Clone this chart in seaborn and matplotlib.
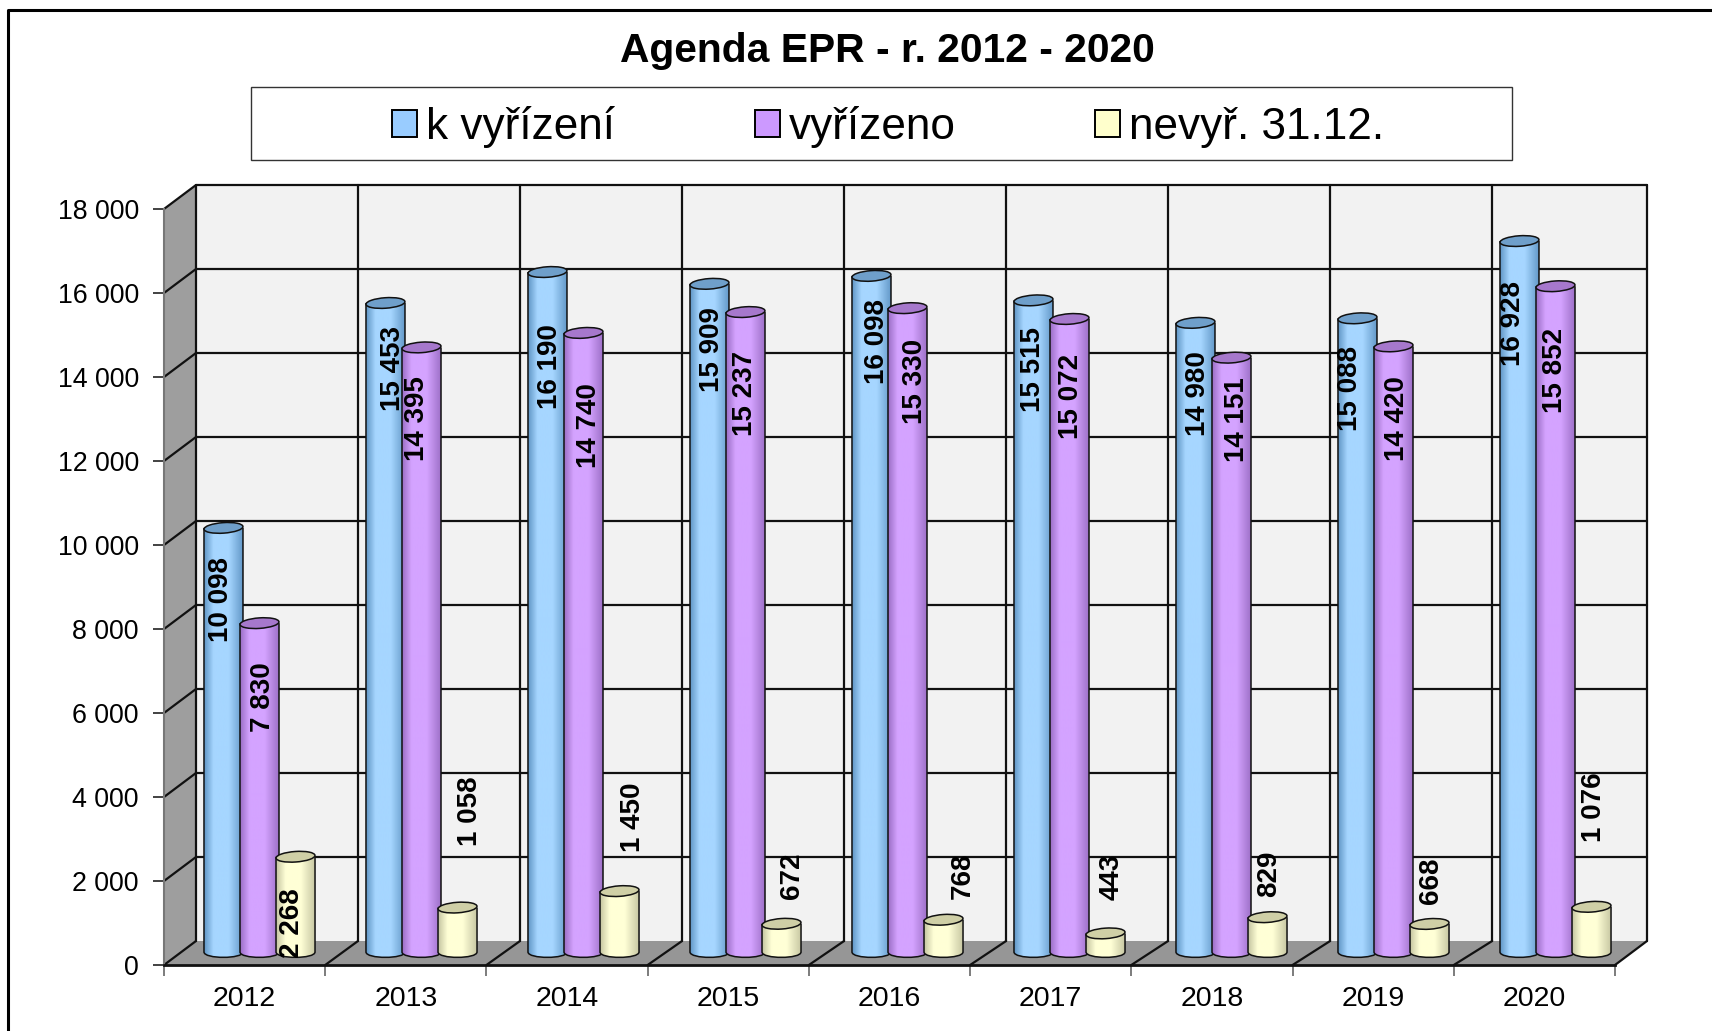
import numpy as np
import pandas as pd
import matplotlib
matplotlib.use('Agg')
import matplotlib.pyplot as plt
import seaborn as sns
from matplotlib.colors import LinearSegmentedColormap
from matplotlib.patches import Ellipse, Patch, PathPatch, Polygon, Rectangle
from matplotlib.path import Path
from matplotlib.transforms import IdentityTransform

# --- data ---
years = ['2012', '2013', '2014', '2015', '2016', '2017', '2018', '2019', '2020']
k_vyrizeni = [10098, 15453, 16190, 15909, 16098, 15515, 14980, 15088, 16928]
vyrizeno = [7830, 14395, 14740, 15237, 15330, 15072, 14151, 14420, 15852]
nevyrizeno = [2268, 1058, 1450, 672, 768, 443, 829, 668, 1076]
series_names = ['k vyřízení', 'vyřízeno', 'nevyř. 31.12.']
y_ticks = [0, 2000, 4000, 6000, 8000, 10000, 12000, 14000, 16000, 18000]

# hand placed labels in the original, px from the top of each cylinder
label_dx = [[-2, 8, 3, 3, 6, 0, 3, -7, -6],
            [3, -4, 5, -1, 7, 2, 5, 3, 0],
            [-4, 12, 13, 10, 19, 6, 2, 1, 2]]
label_dy = [[-72, -66, -95, -66, -66, -69, -71, -70, -82],
            [-74, -71, -93, -81, -73, -77, -62, -72, -84],
            [-66, 96, 74, 48, 44, 57, 43, 43, 100]]

# colours: face, shaded edge, top of the cylinder
face_colors = ['#a6d6ff', '#d4a3ff', '#ffffd6']
edge_colors = ['#5f95c5', '#9a6dc4', '#c4c4a0']
top_colors = ['#6f9fca', '#a678cc', '#cfcfa6']

W, H = 1712, 1031
sns.set_theme(style='white')
plt.rcParams['font.family'] = ['Liberation Sans', 'DejaVu Sans']

df = pd.DataFrame({'rok': years * 3,
                   'serie': np.repeat(series_names, len(years)),
                   'pocet': k_vyrizeni + vyrizeno + nevyrizeno})

fig = plt.figure(figsize=(W / 100, H / 100), dpi=100, facecolor='white')


def axes_at(left, top, right, bottom):
    return fig.add_axes([left / W, 1 - bottom / H, (right - left) / W, (bottom - top) / H])


# --- front plane: axis, ticks, walls, floor ---
ax = axes_at(164, 209, 1615, 965)
ax.set_facecolor('none')
ax.set_xlim(-0.5, 8.5)
ax.set_ylim(0, 18000)
depth_x = 32 / 161.2
depth_y = 24 / 0.042
back_step = 162 / 161.2  # back wall grid runs a bit wider than the front ticks

ax.add_patch(Polygon([(-0.5, 0), (-0.5 + depth_x, depth_y), (-0.5 + depth_x, 18000 + depth_y), (-0.5, 18000)],
                     fc='#9e9e9e', ec='none', clip_on=False, zorder=1))
ax.add_patch(Rectangle((-0.5 + depth_x, depth_y), 9, 18000, fc='#f2f2f2', ec='none', clip_on=False, zorder=1))
ax.add_patch(Polygon([(-0.5, 0), (8.5, 0), (8.5 + depth_x, depth_y), (-0.5 + depth_x, depth_y)],
                     fc='#969696', ec='none', clip_on=False, zorder=1.5))

line_kw = dict(color='#111111', lw=1.6, clip_on=False, zorder=2, solid_capstyle='round')
for t in y_ticks[1:]:
    ax.plot([-0.5, -0.5 + depth_x, 8.5 + depth_x], [t, t + depth_y, t + depth_y], **line_kw)
for i in range(10):
    back_x = -0.5 + depth_x + (i * back_step if i < 9 else 9)
    ax.plot([back_x] * 2, [depth_y, 18000 + depth_y], **line_kw)
    ax.plot([i - 0.5, back_x], [0, depth_y], **line_kw)

ax.set_yticks(y_ticks)
ax.set_yticklabels([f'{t:,}'.replace(',', ' ') for t in y_ticks], fontsize=19.3, color='black')
ax.set_xticks(range(9))
ax.set_xticklabels(years, fontsize=20.5, color='black')
ax.set_xticks(np.arange(-0.5, 9), minor=True)
ax.tick_params(axis='y', left=True, length=8, width=1.2, color='#222222', pad=10)
ax.tick_params(axis='x', which='major', bottom=False, length=0, pad=15)
ax.tick_params(axis='x', which='minor', bottom=True, length=8, width=1.2, color='#666666')
for side in ['top', 'right']:
    ax.spines[side].set_visible(False)
ax.spines['left'].set_color('#777777')
ax.spines['left'].set_linewidth(1.5)
ax.spines['bottom'].set_color('#111111')
ax.spines['bottom'].set_linewidth(2)
ax.spines['left'].set_zorder(3)
ax.spines['bottom'].set_zorder(3)

# --- cylinders: seaborn bars, shaded and capped afterwards ---
ax_bars = axes_at(178.5, 209 - 13, 178.5 + 9 * 162, 965 - 13)
ax_bars.set_facecolor('none')
sns.barplot(data=df, x='rok', y='pocet', hue='serie', hue_order=series_names, palette=face_colors,
            width=0.667, gap=-0.083, linewidth=0, legend=False, ax=ax_bars)
ax_bars.set_xlim(-0.5, 8.5)
ax_bars.set_ylim(0, 18000)
ax_bars.axis('off')

shade = np.linspace(0, 1, 256).reshape(1, -1)
display = IdentityTransform()
for s, container in enumerate(ax_bars.containers):
    cmap = LinearSegmentedColormap.from_list(
        f'cyl{s}', [(0, edge_colors[s]), (0.24, face_colors[s]), (0.62, face_colors[s]), (1, edge_colors[s])])
    z = 3 + s
    for j, bar in enumerate(container.patches):
        x0, w, v = bar.get_x(), bar.get_width(), bar.get_height()
        (px0, py0), (px1, py1) = ax_bars.transData.transform([(x0, 0), (x0 + w, v)])
        # lower edge bulges by half of the ellipse
        b = 5.5
        outline = Path([(px0, py1), (px0, py0), (px0, py0 - b * 1.3), (px1, py0 - b * 1.3), (px1, py0),
                        (px1, py1)],
                       [Path.MOVETO, Path.LINETO, Path.CURVE4, Path.CURVE4, Path.CURVE4, Path.LINETO])
        im = ax_bars.imshow(shade, cmap=cmap, aspect='auto', extent=(x0, x0 + w, -300, v), zorder=z)
        im.set_clip_box(fig.bbox)
        im.set_clip_path(outline, transform=display)
        ax_bars.add_patch(PathPatch(outline, fc='none', ec='#111111', lw=1.1, transform=display, zorder=z + 0.1,
                                    clip_on=False))
        ax_bars.add_patch(Ellipse(((px0 + px1) / 2, py1), px1 - px0, 10.5, angle=4, fc=top_colors[s], ec='#111111',
                                  lw=1.1, transform=display, zorder=z + 0.2, clip_on=False))
ax_bars.set_xlim(-0.5, 8.5)
ax_bars.set_ylim(0, 18000)

for s, container in enumerate(ax_bars.containers):
    for j, bar in enumerate(container.patches):
        v = bar.get_height()
        ax_bars.annotate(f'{int(v):,}'.replace(',', ' '), (bar.get_x() + bar.get_width() / 2, v),
                         xytext=(label_dx[s][j], label_dy[s][j]), textcoords='offset pixels', rotation=90,
                         ha='center', va='center', fontsize=20, fontweight='bold', color='black', zorder=10,
                         annotation_clip=False)

# --- outer frame (only left and top are in the picture), title, legend ---
fig.add_artist(plt.Line2D([8 / W, 8 / W, 1], [0, 1 - 10 / H, 1 - 10 / H], color='black', lw=2.2))
fig.text(887 / W, 1 - 51 / H, 'Agenda EPR - r. 2012 - 2020', ha='center', va='center', fontsize=29.3,
         fontweight='bold', color='black')
fig.add_artist(Rectangle((251 / W, 1 - 160 / H), (1512 - 251) / W, 73 / H, fc='white', ec='#333333', lw=1,
                         transform=fig.transFigure))
handles = [Patch(fc=c, ec='black', lw=1.4) for c in ['#99ccff', '#cc99ff', '#ffffcc']]
fig.legend(handles, series_names, loc='center left', bbox_to_anchor=(392 / W, 1 - 127 / H), ncol=3, frameon=False,
           fontsize=31.8, borderpad=0, borderaxespad=0, handlelength=0.57, handleheight=0.57, handletextpad=0.2,
           columnspacing=3.16, labelcolor='black')

fig.savefig('out.png', dpi=100)
